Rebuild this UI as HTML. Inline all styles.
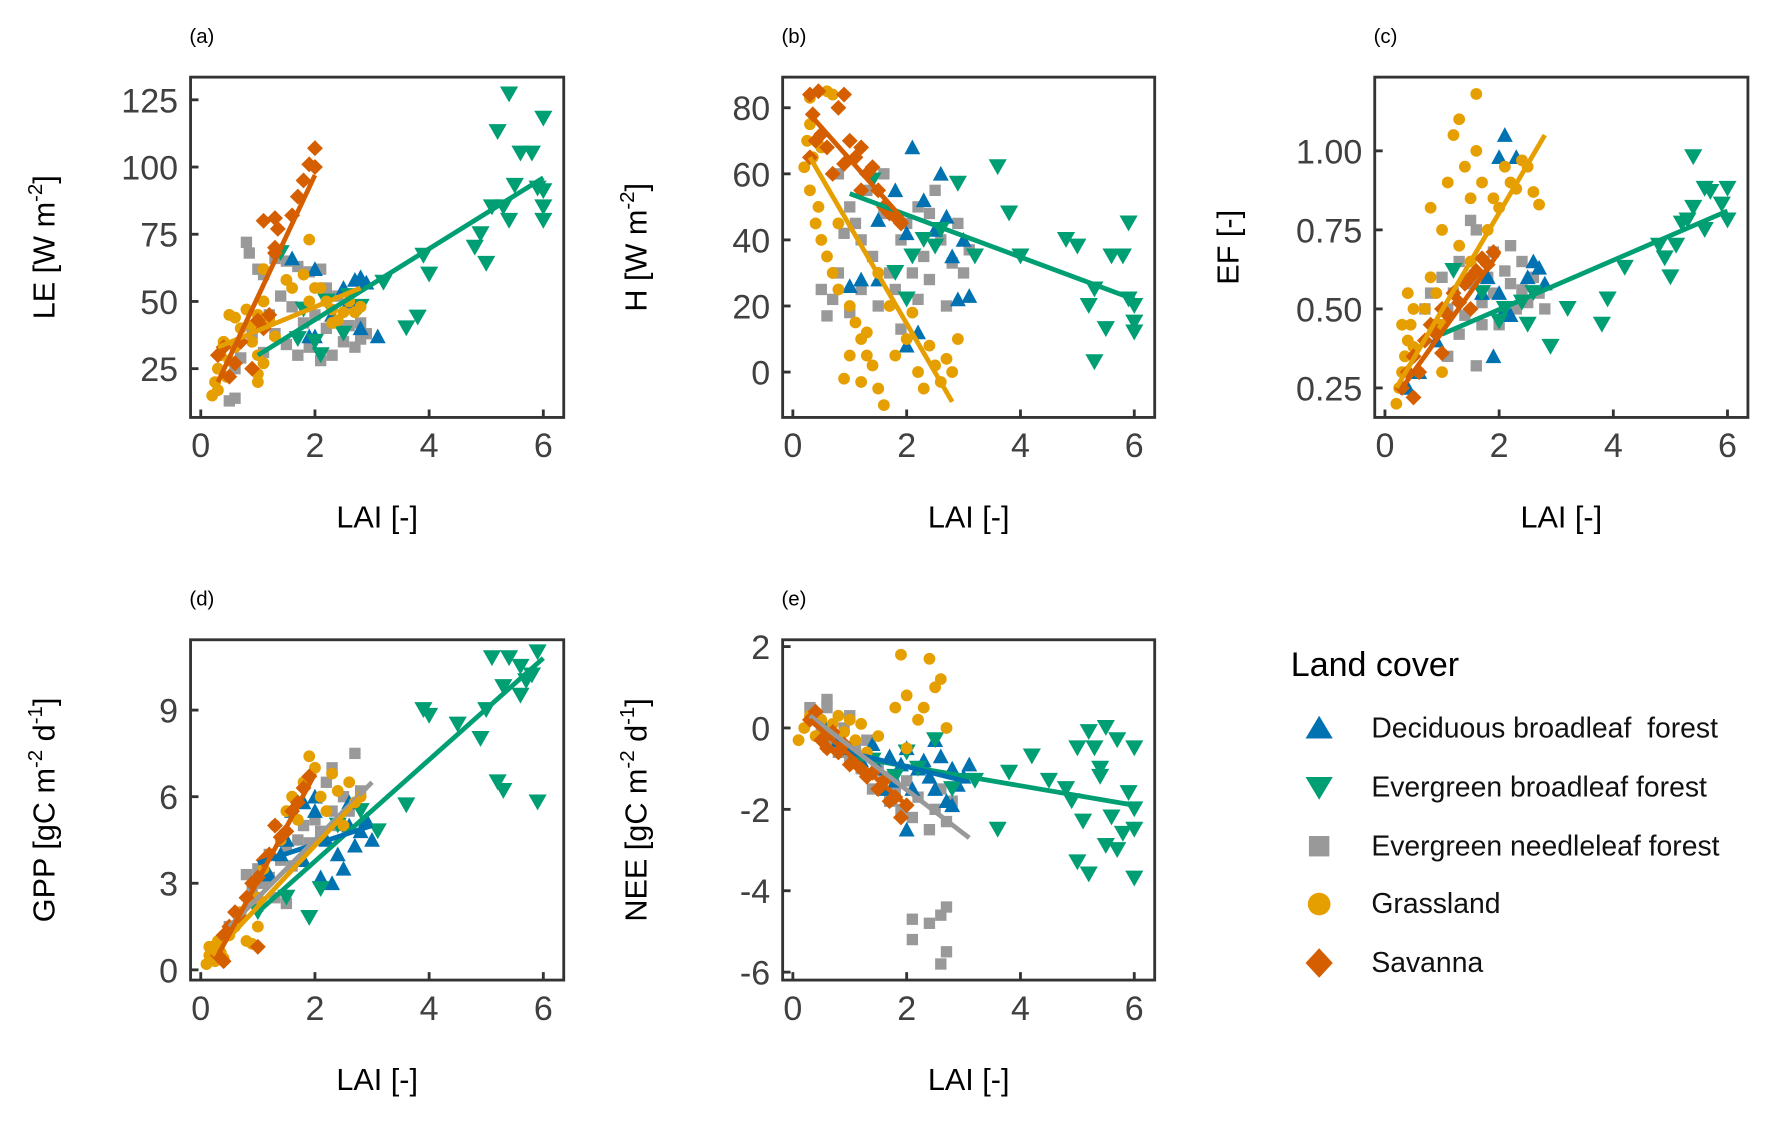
<!DOCTYPE html>
<html><head><meta charset="utf-8"><style>
html,body{margin:0;padding:0;background:#fff;}
svg{display:block;font-family:"Liberation Sans",Arial,sans-serif;}
</style></head><body>
<svg id="fig" width="1774" height="1123" viewBox="0 0 1564 990" preserveAspectRatio="none" xmlns="http://www.w3.org/2000/svg">
<g id="legend">
  <text x="1138" y="596" font-size="30" fill="#000">Land  cover</text>
  <g><polygon points="1163,631 1151,651 1175,651" fill="#0072B2"/><text x="1209" y="650" font-size="25" fill="#111">Deciduous broadleaf&#160; forest</text></g>
  <g><polygon points="1163,705 1151,685 1175,685" fill="#009E73"/><text x="1209" y="702" font-size="25" fill="#111">Evergreen broadleaf forest</text></g>
  <g><rect x="1154" y="737" width="18" height="18" fill="#999"/><text x="1209" y="754" font-size="25" fill="#111">Evergreen needleleaf forest</text></g>
  <g><circle cx="1163" cy="797" r="10" fill="#E69F00"/><text x="1209" y="805" font-size="25" fill="#111">Grassland</text></g>
  <g><polygon points="1163,836 1175,849 1163,862 1151,849" fill="#D55E00"/><text x="1209" y="857" font-size="25" fill="#111">Savanna</text></g>
</g>
</svg>
<script>
// ---- data: [LAI, value] pairs ----
const seriesNames = ["ENF","DBF","EBF","GRA","SAV"];
const xTicks = [0,2,4,6];
const aTicks = [25,50,75,100,125];
const bTicks = [0,20,40,60,80];
const cTicks = [0.25,0.5,0.75,1.0];
const cTickLabels = ["0.25","0.50","0.75","1.00"];
const dTicks = [0,3,6,9];
const eTicks = [-6,-4,-2,0,2];

const aEBF=[[1.4,68],[1.8,47],[2.1,30],[2.2,50],[2.5,38],[2.6,52],[2.8,48],[3.2,57],[3.6,40],[3.8,44],[3.9,67],[4.0,60],[4.8,70],[4.9,75],[5.0,64],[5.1,85],[5.3,85],[5.4,80],[5.2,113],[5.4,127],[5.6,105],[5.8,105],[5.9,92],[6.0,118],[6.0,85],[6.0,80],[5.5,93],[6.0,91],[2.0,35],[1.7,36]];
const aDBF=[[1.6,66],[2.0,62],[2.7,58],[2.8,59],[2.9,57],[2.5,55],[2.8,40],[3.1,37],[2.0,37],[1.9,37],[2.3,45],[2.6,50]];
const aENF=[[0.8,72],[0.85,68],[1.0,62],[1.1,60],[1.3,66],[1.5,65],[1.7,63],[1.9,61],[2.1,62],[2.2,55],[2.4,52],[2.6,49],[2.8,42],[2.9,38],[2.7,33],[2.5,35],[2.3,30],[2.1,28],[1.9,33],[1.7,30],[1.5,34],[1.3,38],[1.2,45],[1.4,52],[1.6,48],[1.8,42],[2.0,45],[2.2,40],[2.4,42],[0.6,25],[0.5,13],[0.6,14],[0.7,29],[0.9,38],[1.1,31],[2.6,41],[2.8,36]];
const aGRA=[[0.2,15],[0.3,17],[0.25,20],[0.3,25],[0.35,30],[0.4,35],[0.5,45],[0.6,44],[0.7,40],[0.8,47],[0.9,35],[1.0,30],[0.5,28],[0.45,22],[0.6,33],[1.0,20],[1.0,23],[1.1,27],[1.0,45],[1.1,50],[1.2,43],[1.1,62],[1.5,58],[1.6,55],[1.8,60],[1.9,73],[1.9,50],[2.0,55],[2.1,55],[2.2,50],[2.3,47],[2.4,43],[2.5,46],[2.6,50],[2.7,46],[2.8,48],[2.3,42],[1.3,37],[0.9,41]];
const aSAV=[[0.3,30],[0.4,33],[0.5,22],[0.6,27],[0.9,25],[1.0,43],[1.1,40],[1.2,45],[1.3,68],[1.3,70],[1.1,80],[1.3,81],[1.35,77],[1.6,82],[1.7,89],[1.8,95],[1.9,101],[2.0,100],[2.0,107],[0.7,35]];

const bEBF=[[1.4,58],[1.8,30],[2.0,22],[2.3,40],[2.6,43],[2.9,57],[3.2,35],[3.6,62],[3.8,48],[4.0,35],[4.8,40],[5.0,38],[5.2,20],[5.3,25],[5.5,13],[5.3,3],[5.6,35],[5.8,35],[5.9,45],[6.0,20],[6.0,15],[6.0,12],[5.9,22],[2.1,35],[2.5,38]];
const bDBF=[[1.0,26],[1.2,28],[1.5,46],[2.0,42],[2.3,52],[2.5,43],[2.8,35],[2.9,22],[3.1,23],[2.7,47],[2.2,12],[2.0,8],[1.5,28],[2.1,68],[1.8,55],[3.0,40],[2.6,60]];
const bENF=[[0.5,25],[0.6,17],[0.7,22],[0.8,30],[0.9,42],[1.0,50],[1.1,45],[1.2,40],[1.3,55],[1.4,35],[1.5,20],[1.6,48],[1.7,30],[1.8,25],[1.9,40],[2.0,45],[2.1,30],[2.2,50],[2.3,35],[2.4,28],[2.5,55],[2.6,40],[2.7,20],[2.8,33],[2.9,45],[3.0,30],[1.0,18],[1.2,25],[1.6,60],[2.4,48],[0.8,60],[1.9,13],[3.1,37],[2.2,22]];
const bGRA=[[0.2,62],[0.25,70],[0.3,55],[0.35,65],[0.4,45],[0.45,50],[0.5,40],[0.6,35],[0.7,30],[0.8,25],[0.5,68],[0.3,75],[0.6,85],[0.7,84],[0.3,83],[1.0,20],[1.1,15],[1.2,10],[1.3,5],[1.4,2],[1.5,-5],[0.9,-2],[1.0,5],[1.2,-3],[1.6,-10],[1.8,5],[2.0,10],[2.2,0],[2.3,-5],[2.5,2],[2.6,-3],[2.7,4],[2.8,0],[2.9,10],[1.7,20],[1.5,30],[1.3,12],[0.8,45],[2.1,18],[2.4,8]];
const bSAV=[[0.3,84],[0.35,78],[0.4,70],[0.3,65],[0.5,72],[0.6,68],[0.7,60],[0.8,80],[0.9,84],[1.0,70],[1.1,65],[1.2,68],[1.3,60],[1.4,62],[1.5,55],[1.6,50],[1.7,48],[1.8,47],[1.9,45],[0.45,85],[0.9,63],[1.2,55]];

const cEBF=[[1.2,0.62],[1.7,0.55],[2.0,0.46],[2.1,0.50],[2.4,0.52],[2.6,0.55],[2.9,0.38],[3.2,0.5],[3.8,0.45],[3.9,0.53],[4.2,0.63],[4.8,0.7],[4.9,0.66],[5.0,0.6],[5.1,0.7],[5.3,0.78],[5.4,0.98],[5.4,0.82],[5.6,0.88],[5.7,0.87],[5.9,0.83],[6.0,0.88],[6.0,0.78],[5.6,0.75],[5.2,0.77],[2.5,0.45]];
const cDBF=[[2.0,0.98],[2.1,1.05],[2.3,0.98],[2.5,0.6],[2.6,0.65],[2.7,0.63],[2.8,0.58],[2.0,0.55],[1.8,0.6],[1.7,0.55],[2.2,0.48],[1.9,0.35],[0.9,0.4],[0.6,0.3],[0.4,0.25],[2.1,0.5]];
const cENF=[[0.7,0.5],[0.8,0.55],[0.9,0.45],[1.0,0.6],[1.1,0.5],[1.2,0.55],[1.3,0.65],[1.4,0.48],[1.5,0.58],[1.6,0.75],[1.7,0.52],[1.8,0.6],[1.9,0.55],[2.0,0.45],[2.1,0.62],[2.2,0.58],[2.3,0.5],[2.4,0.56],[2.5,0.52],[2.6,0.6],[2.7,0.55],[2.8,0.5],[1.7,0.45],[1.1,0.35],[1.6,0.32],[2.2,0.7],[1.5,0.78],[1.9,0.68],[2.4,0.65],[1.3,0.42]];
const cGRA=[[0.2,0.2],[0.25,0.25],[0.3,0.3],[0.35,0.35],[0.4,0.4],[0.45,0.45],[0.5,0.5],[0.3,0.45],[0.5,0.38],[0.6,0.3],[0.7,0.5],[0.8,0.6],[0.9,0.55],[1.0,0.75],[1.0,0.3],[1.1,0.9],[1.2,1.05],[1.3,1.1],[1.4,0.95],[1.5,0.85],[1.6,1.0],[1.6,1.18],[1.7,0.9],[1.8,0.75],[1.9,0.85],[2.0,0.82],[2.1,0.95],[2.2,0.9],[2.3,0.88],[2.4,0.97],[2.5,0.95],[2.6,0.87],[2.7,0.83],[1.3,0.7],[1.5,0.65],[0.8,0.82],[0.4,0.55],[1.0,0.45]];
const cSAV=[[0.3,0.25],[0.4,0.3],[0.5,0.35],[0.6,0.3],[0.7,0.4],[0.8,0.45],[0.9,0.42],[1.0,0.5],[1.1,0.48],[1.2,0.55],[1.3,0.52],[1.4,0.58],[1.5,0.6],[1.6,0.62],[1.7,0.66],[1.8,0.64],[1.9,0.68],[0.5,0.22],[1.0,0.36],[1.5,0.5]];

const dEBF=[[1.0,2.0],[1.5,2.5],[1.9,1.8],[2.1,2.8],[2.4,5.0],[2.8,5.5],[3.1,4.8],[3.6,5.7],[3.9,9.0],[4.0,8.8],[4.5,8.5],[5.0,9.0],[5.1,10.8],[5.2,6.5],[5.3,6.2],[5.4,10.8],[5.6,9.5],[5.7,10.0],[5.8,10.2],[5.9,5.8],[5.9,11.0],[5.6,10.5],[4.9,8.0],[5.3,9.8]];
const dDBF=[[1.2,3.3],[1.4,4.0],[1.6,5.5],[1.8,5.8],[2.0,5.5],[2.2,4.5],[2.4,4.0],[2.5,3.5],[2.6,5.0],[2.7,4.3],[2.8,4.8],[2.9,5.2],[3.0,4.5],[2.3,3.0],[1.8,3.8],[2.1,3.2],[2.0,6.0],[2.6,5.8],[1.5,4.5]];
const dENF=[[0.5,1.5],[0.7,2.0],[0.8,3.3],[0.9,2.8],[1.0,3.5],[1.1,3.0],[1.2,4.0],[1.3,2.5],[1.4,3.8],[1.5,4.2],[1.6,3.6],[1.7,4.5],[1.8,5.0],[1.9,4.4],[2.0,5.2],[2.1,4.8],[2.2,6.5],[2.3,5.5],[2.4,5.0],[2.5,6.0],[2.6,5.5],[2.7,7.5],[2.8,6.2],[1.0,2.2],[1.5,2.3],[2.3,7.0],[1.2,3.2]];
const dGRA=[[0.1,0.2],[0.15,0.5],[0.2,0.8],[0.25,0.3],[0.3,1.0],[0.35,0.6],[0.4,0.4],[0.5,1.2],[0.6,1.5],[0.7,2.0],[0.8,1.0],[0.9,0.9],[1.0,2.5],[1.1,3.5],[1.2,4.0],[1.3,5.0],[1.4,4.5],[1.5,5.5],[1.6,6.0],[1.7,5.2],[1.8,6.5],[1.9,7.4],[2.0,7.0],[2.1,6.0],[2.2,5.5],[2.3,6.8],[2.4,6.2],[2.5,5.0],[2.6,6.5],[2.7,5.8],[2.8,6.0],[1.0,1.5],[0.15,0.8]];
const dSAV=[[0.3,0.5],[0.4,1.2],[0.5,1.5],[0.6,2.0],[0.7,1.8],[0.8,2.5],[0.9,3.0],[1.0,3.2],[1.1,3.8],[1.2,4.0],[1.3,5.0],[1.4,4.6],[1.5,4.8],[1.6,5.5],[1.7,5.8],[1.8,6.3],[1.9,6.7],[1.0,0.8],[0.4,0.3]];

const eEBF=[[1.4,-0.8],[1.8,-1.2],[2.0,-0.6],[2.2,-1.0],[2.5,-0.3],[2.8,-1.5],[3.2,-1.3],[3.6,-2.5],[3.8,-1.1],[4.2,-0.7],[4.5,-1.3],[4.8,-1.5],[4.9,-1.8],[5.0,-3.3],[5.0,-0.5],[5.1,-2.3],[5.2,-0.1],[5.2,-3.6],[5.3,-0.5],[5.4,-1.2],[5.5,0.0],[5.5,-2.9],[5.6,-2.2],[5.7,-0.3],[5.7,-3.0],[5.8,-2.6],[5.9,-1.6],[6.0,-2.0],[6.0,-2.5],[6.0,-3.7],[6.0,-0.5],[5.4,-1.0]];
const eDBF=[[0.5,0.2],[0.8,-0.3],[1.0,-0.5],[1.2,-0.8],[1.4,-0.4],[1.5,-1.0],[1.7,-0.7],[1.8,-1.3],[1.9,-0.9],[2.0,-0.5],[2.1,-1.5],[2.2,-1.0],[2.3,-0.8],[2.4,-1.2],[2.5,-1.5],[2.6,-0.7],[2.7,-1.8],[2.8,-1.0],[2.9,-1.4],[3.0,-1.2],[3.1,-0.9],[2.0,-2.5],[2.5,-0.3],[1.6,-1.5],[2.8,-1.9]];
const eENF=[[0.3,0.5],[0.4,0.2],[0.5,0.0],[0.6,0.5],[0.7,-0.3],[0.8,-0.6],[0.9,0.0],[1.0,-0.8],[1.1,-0.5],[1.2,-1.0],[1.3,-0.3],[1.4,-1.5],[1.5,-0.9],[1.6,-1.2],[1.7,-1.8],[1.8,-1.5],[1.9,-2.0],[2.0,-1.3],[2.1,-2.2],[2.2,-1.7],[2.3,-1.0],[2.4,-2.5],[2.5,-2.0],[2.6,-1.5],[2.7,-2.3],[2.8,-1.8],[2.1,-4.7],[2.1,-5.2],[2.4,-4.8],[2.6,-4.6],[2.7,-4.4],[2.7,-5.5],[2.6,-5.8],[0.6,0.7],[1.0,0.3]];
const eGRA=[[0.1,-0.3],[0.2,0.0],[0.3,0.3],[0.4,-0.2],[0.5,0.2],[0.6,-0.5],[0.7,0.1],[0.8,0.3],[0.9,-0.1],[1.0,0.2],[1.1,-0.3],[1.2,0.1],[1.3,-0.6],[1.5,-0.2],[1.8,0.5],[1.9,1.8],[2.0,-0.5],[2.3,0.5],[2.4,1.7],[2.5,1.0],[2.6,1.2],[2.2,0.2],[2.7,0.0],[2.0,0.8]];
const eSAV=[[0.3,0.2],[0.4,0.4],[0.5,-0.3],[0.6,-0.5],[0.7,-0.1],[0.8,-0.6],[0.9,-0.4],[1.0,-0.9],[1.1,-0.7],[1.2,-1.0],[1.3,-1.2],[1.4,-1.1],[1.5,-1.5],[1.6,-1.3],[1.7,-1.8],[1.8,-1.7],[1.9,-2.2],[2.0,-1.9]];

// regression lines: [series, x0, y0, x1, y1]
const aFits=[["EBF",1.0,30,6.0,96],["GRA",0.3,33,2.8,55],["SAV",0.3,20,2.0,97]];
const bFits=[["EBF",1.0,54,6.0,22],["GRA",0.3,65,2.8,-9],["SAV",0.3,78,2.0,45]];
const cFits=[["EBF",1.0,0.42,6.0,0.81],["GRA",0.2,0.25,2.8,1.05],["SAV",0.3,0.25,2.0,0.68]];
const dFits=[["EBF",1.0,2.0,6.0,10.8],["DBF",1.0,3.7,3.0,5.0],["ENF",0.5,1.5,3.0,6.5],["GRA",0.2,0.5,2.8,6.0],["SAV",0.3,0.5,2.0,6.8]];
const eFits=[["EBF",1.0,-0.7,6.0,-1.9],["DBF",1.0,-0.6,3.0,-1.3],["ENF",0.3,0.3,3.1,-2.7],["SAV",0.3,0.2,2.0,-1.9]];

const colors={ENF:"#999999",DBF:"#0072B2",EBF:"#009E73",GRA:"#E69F00",SAV:"#D55E00"};
const NS="http://www.w3.org/2000/svg";
const svg=document.getElementById("fig");
function mk(tag,attrs,parent){const e=document.createElementNS(NS,tag);for(const k in attrs)e.setAttribute(k,attrs[k]);(parent||svg).appendChild(e);return e;}

const panels=[
 {id:"a",left:168,right:497,top:68,bottom:368,y0v:25,y0p:325,y1v:125,y1p:88,ticks:aTicks,labels:aTicks.map(String),ylab:["LE [W m","-2","]"],data:{ENF:aENF,DBF:aDBF,EBF:aEBF,GRA:aGRA,SAV:aSAV},fits:aFits},
 {id:"b",left:690,right:1018,top:68,bottom:368,y0v:0,y0p:328,y1v:80,y1p:95,ticks:bTicks,labels:bTicks.map(String),ylab:["H [W m","-2","]"],data:{ENF:bENF,DBF:bDBF,EBF:bEBF,GRA:bGRA,SAV:bSAV},fits:bFits},
 {id:"c",left:1212,right:1541,top:68,bottom:368,y0v:0.25,y0p:342,y1v:1.0,y1p:133,ticks:cTicks,labels:cTickLabels,ylab:["EF [-]"],data:{ENF:cENF,DBF:cDBF,EBF:cEBF,GRA:cGRA,SAV:cSAV},fits:cFits},
 {id:"d",left:168,right:497,top:564,bottom:864,y0v:0,y0p:855,y1v:9,y1p:626,ticks:dTicks,labels:dTicks.map(String),ylab:["GPP [gC m","-2"," d","-1","]"],data:{ENF:dENF,DBF:dDBF,EBF:dEBF,GRA:dGRA,SAV:dSAV},fits:dFits},
 {id:"e",left:690,right:1018,top:564,bottom:864,y0v:-6,y0p:857,y1v:2,y1p:570,ticks:eTicks,labels:eTicks.map(String),ylab:["NEE [gC m","-2"," d","-1","]"],data:{ENF:eENF,DBF:eDBF,EBF:eEBF,GRA:eGRA,SAV:eSAV},fits:eFits}
];

function marker(g,s,x,y){
  const c=colors[s];let e;
  if(s==="DBF") e=mk("polygon",{points:`${x},${y-7} ${x-7},${y+6} ${x+7},${y+6}`,fill:c},g);
  else if(s==="EBF") e=mk("polygon",{points:`${x},${y+7} ${x-8},${y-7} ${x+8},${y-7}`,fill:c},g);
  else if(s==="ENF") e=mk("rect",{x:x-5,y:y-5,width:10,height:10,fill:c},g);
  else if(s==="GRA") e=mk("circle",{cx:x,cy:y,r:5.2,fill:c},g);
  else e=mk("polygon",{points:`${x},${y-7} ${x+7},${y} ${x},${y+7} ${x-7},${y}`,fill:c},g);
  return e;
}

panels.forEach(p=>{
  const g=mk("g",{});
  
  
  const xs=v=>p.left+9+v*(p.right-p.left-27)/6;
  const ys=v=>p.y0p+(v-p.y0v)*(p.y1p-p.y0p)/(p.y1v-p.y0v);
  const cy=(p.top+p.bottom)/2;
  const pl=mk("text",{x:p.left-1,y:p.top-30,"font-size":18,fill:"#000"},g);pl.textContent="("+p.id+")";
  
  
  const pg=mk("g",{},g);
  
  
  seriesNames.forEach(s=>{
    p.data[s].forEach(d=>{
      const m=marker(pg,s,xs(d[0]),ys(d[1]));
      
      
    });
  });
  p.fits.forEach(f=>{
    const l=mk("line",{x1:xs(f[1]),y1:ys(f[2]),x2:xs(f[3]),y2:ys(f[4]),stroke:colors[f[0]],"stroke-width":4.2},g);
    
    
  });
  const fr=mk("rect",{x:p.left,y:p.top,width:p.right-p.left,height:p.bottom-p.top,fill:"none",stroke:"#333","stroke-width":2.5},g);
  
  
  xTicks.forEach(t=>{
    const X=xs(t);
    mk("line",{x1:X,y1:p.bottom,x2:X,y2:p.bottom-7,stroke:"#333","stroke-width":2.5},g);
    const tx=mk("text",{x:X,y:p.bottom+35,"font-size":30,fill:"#404040","text-anchor":"middle"},g);tx.textContent=t;
    
    
  });
  p.ticks.forEach((t,i)=>{
    const Y=ys(t);
    mk("line",{x1:p.left,y1:Y,x2:p.left+7,y2:Y,stroke:"#333","stroke-width":2.5},g);
    const tx=mk("text",{x:p.left-11,y:Y+11,"font-size":30,fill:"#404040","text-anchor":"end"},g);tx.textContent=p.labels[i];
    
    
  });
  const xt=mk("text",{x:(p.left+p.right)/2,y:p.bottom+97,"font-size":27,fill:"#000","text-anchor":"middle"},g);xt.textContent="LAI [-]";
  
  
  const yx=p.left-120;
  const yt=mk("text",{x:yx,y:cy,"font-size":27,fill:"#000","text-anchor":"middle",transform:`rotate(-90 ${yx} ${cy})`},g);
  
  
  p.ylab.forEach((part,i)=>{
    const sup=/^-\d$/.test(part);
    const ts=mk("tspan",sup?{"font-size":18,dy:-11}:(i>0?{dy:11}:{}),yt);
    ts.textContent=part;
  });
});
</script>
</body></html>
